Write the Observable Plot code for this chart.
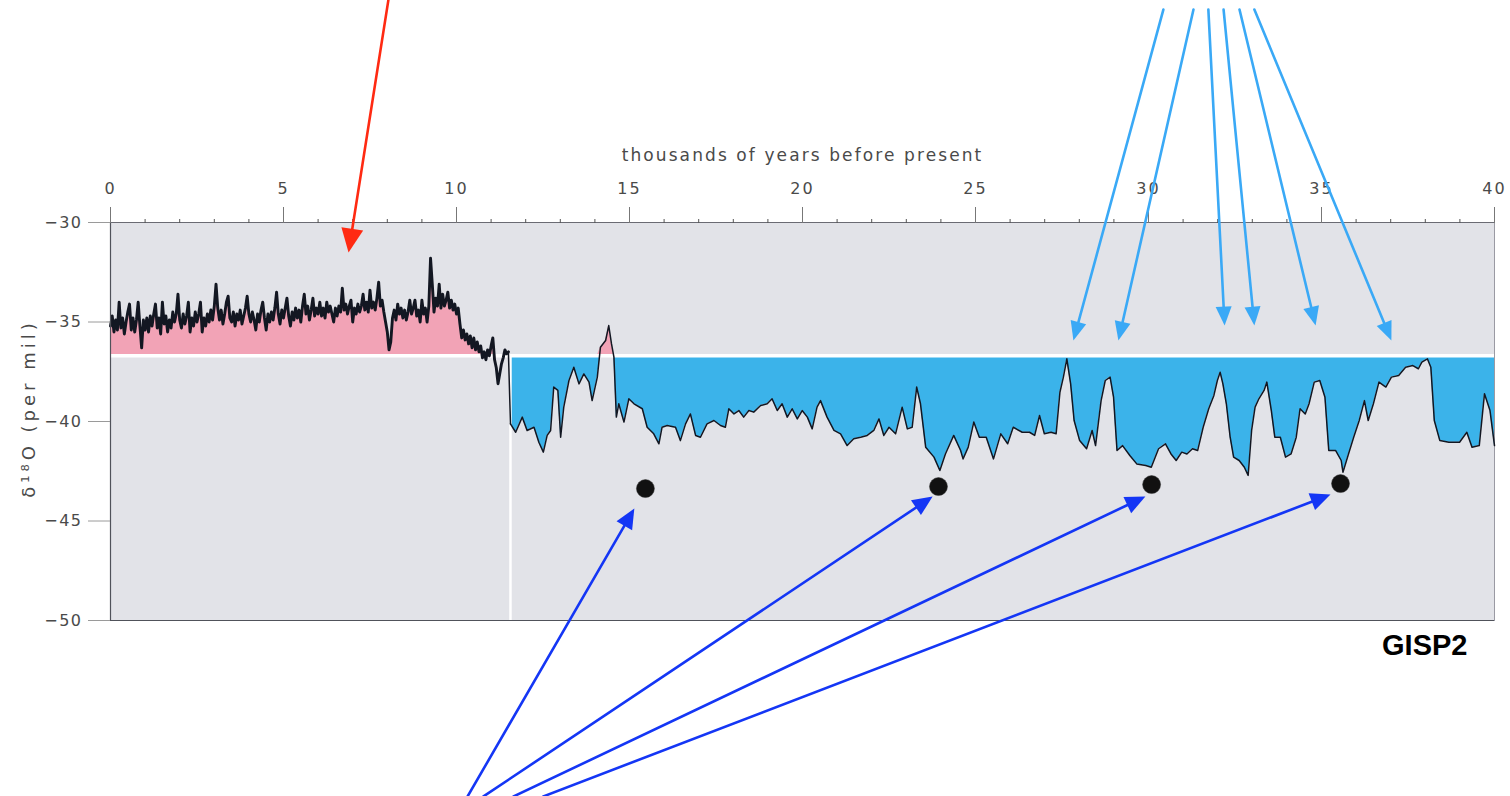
<!DOCTYPE html>
<html>
<head>
<meta charset="utf-8">
<script src="https://cdn.jsdelivr.net/npm/d3@7"></script>
<script src="https://cdn.jsdelivr.net/npm/@observablehq/plot@0.6"></script>
<style>
  html, body { margin: 0; padding: 0; background: #ffffff; }
  #chart svg { display: block; }
  /* axis titles (17px and 18px text marks) use wide tracking */
  #chart g[font-size="17"] text, #chart g[font-size="17px"] text { letter-spacing: 2.1px; }
  #chart g[font-size="18"] text, #chart g[font-size="18px"] text { letter-spacing: 4px; }
  #chart g[aria-label="x-axis tick label"] text { letter-spacing: 2px; }
  #chart g[aria-label="y-axis tick label"] text { letter-spacing: 1.5px; }
</style>
</head>
<body>
<div id="chart"></div>
<script>
// GISP2 ice core: oxygen-isotope record for the last 40,000 years.

// Reference level separating the warm (pink) and cold (blue) shading, per mil
const baseline = -36.7;
// Younger Dryas termination, kyr before present
const holoceneStart = 11.56;

// Holocene section, sampled every 0.05 kyr from 0 ka
const holoceneStep = 0.05;
const holoceneDelta = [
  -35.2, -34.7, -35.5, -34.9, -35.4, -34.0, -35.3, -34.8, -35.6, -35.0, -34.5, -34.1, -35.4, -34.8, -35.5, -34.9, -34.0, -35.2, -36.3, -34.9,
  -35.4, -34.8, -35.5, -34.7, -35.2, -34.6, -34.1, -35.3, -34.8, -35.6, -34.0, -35.1, -34.7, -35.5, -34.9, -35.3, -34.5, -35.0, -34.6, -33.6,
  -34.9, -35.3, -34.6, -35.1, -34.7, -34.0, -35.5, -34.8, -35.2, -34.5, -35.0, -34.6, -34.0, -35.5, -34.8, -35.2, -34.6, -35.0, -34.4, -34.9,
  -34.2, -33.1, -34.3, -34.9, -34.4, -35.1, -34.6, -34.0, -33.7, -34.8, -35.0, -34.5, -35.2, -34.6, -34.9, -34.4, -35.1, -34.7, -34.3, -33.7,
  -34.6, -35.0, -34.5, -34.9, -35.4, -34.6, -35.0, -34.4, -34.0, -34.8, -35.4, -34.6, -35.0, -34.5, -34.9, -34.3, -33.5, -34.6, -35.1, -34.4,
  -34.8, -34.3, -33.8, -34.7, -35.2, -34.5, -34.9, -34.3, -34.8, -34.4, -35.0, -34.2, -33.6, -34.6, -34.2, -34.9, -34.4, -33.8, -34.7, -34.3,
  -34.6, -34.0, -34.7, -34.3, -34.8, -34.0, -34.5, -34.2, -34.6, -35.0, -34.3, -34.7, -34.2, -34.5, -33.3, -34.4, -34.1, -34.6, -34.2, -33.9,
  -35.0, -34.3, -34.6, -34.1, -34.5, -34.2, -33.6, -34.4, -34.0, -34.5, -33.4, -34.3, -34.0, -34.4, -33.8, -33.0, -34.2, -33.9, -34.5, -35.0,
  -35.5, -36.4, -36.0, -34.8, -34.4, -34.9, -34.1, -34.6, -34.3, -34.8, -34.4, -34.9, -34.5, -33.9, -34.6, -34.3, -33.9, -34.7, -34.4, -35.0,
  -33.9, -34.6, -34.3, -35.0, -34.2, -31.8, -33.1, -34.5, -33.8, -34.2, -33.1, -34.3, -33.6, -34.2, -33.9, -33.5, -34.3, -33.9, -34.4, -34.1,
  -34.6, -34.3, -35.1, -35.8, -35.4, -35.9, -35.6, -36.1, -35.7, -36.3, -35.8, -36.4, -36.0, -36.5, -36.2, -36.8, -36.5, -36.9, -36.4, -36.7,
  -36.2, -35.8, -36.9, -37.3, -38.1, -37.6, -37.1, -36.8, -36.4, -36.6, -36.5
];

// Glacial section (kyr BP, per mil)
const glacialAge = [
  11.56, 11.71, 11.90, 12.04, 12.24, 12.38, 12.51, 12.62, 12.72, 12.81, 12.93, 13.01, 13.10, 13.25, 13.39, 13.54, 13.68, 13.83, 13.92, 14.07,
  14.16, 14.31, 14.40, 14.48, 14.55, 14.62, 14.69, 14.84, 14.98, 15.13, 15.37, 15.51, 15.70, 15.85, 15.94, 16.09, 16.33, 16.47, 16.62, 16.76,
  16.91, 17.05, 17.24, 17.44, 17.63, 17.77, 17.87, 18.02, 18.16, 18.30, 18.45, 18.59, 18.79, 18.98, 19.12, 19.27, 19.41, 19.56, 19.70, 19.85,
  19.99, 20.14, 20.28, 20.42, 20.52, 20.71, 20.91, 21.10, 21.29, 21.48, 21.68, 21.87, 22.06, 22.21, 22.35, 22.50, 22.69, 22.88, 23.03, 23.17,
  23.30, 23.41, 23.56, 23.80, 23.97, 24.13, 24.37, 24.57, 24.64, 24.79, 24.95, 25.11, 25.31, 25.52, 25.73, 25.93, 26.09, 26.35, 26.56, 26.71,
  26.85, 26.99, 27.18, 27.33, 27.44, 27.54, 27.64, 27.75, 27.85, 28.01, 28.21, 28.37, 28.47, 28.63, 28.75, 28.89, 28.99, 29.09, 29.25, 29.46,
  29.66, 29.92, 30.08, 30.29, 30.49, 30.65, 30.80, 30.96, 31.11, 31.27, 31.42, 31.58, 31.74, 31.89, 31.99, 32.07, 32.15, 32.25, 32.36, 32.46,
  32.62, 32.77, 32.88, 32.98, 33.08, 33.19, 33.34, 33.42, 33.55, 33.65, 33.81, 33.96, 34.12, 34.27, 34.38, 34.53, 34.64, 34.79, 34.95, 35.10,
  35.21, 35.41, 35.57, 35.62, 35.78, 35.93, 36.09, 36.24, 36.35, 36.50, 36.66, 36.86, 37.02, 37.23, 37.43, 37.64, 37.80, 37.90, 38.06, 38.16,
  38.26, 38.42, 38.68, 38.99, 39.20, 39.35, 39.56, 39.71, 39.87, 40.00
];
const glacialDelta = [
  -40.12, -40.54, -39.78, -40.45, -40.29, -41.04, -41.54, -40.70, -40.45, -38.27, -38.44, -40.79, -39.28, -37.94, -37.27, -38.11, -37.61, -38.02, -38.95, -37.77,
  -36.27, -35.93, -35.18, -36.10, -36.77, -39.78, -39.11, -40.03, -38.86, -39.11, -39.36, -40.29, -40.62, -41.12, -40.29, -40.20, -40.29, -40.96, -40.12, -39.62,
  -40.70, -40.79, -40.12, -39.95, -40.20, -40.29, -39.36, -39.62, -39.45, -39.78, -39.45, -39.53, -39.20, -39.11, -38.86, -39.45, -39.11, -39.78, -39.36, -39.87,
  -39.45, -39.78, -40.37, -39.28, -38.95, -39.78, -40.45, -40.62, -41.21, -40.87, -40.79, -40.70, -40.45, -39.87, -40.70, -40.29, -40.62, -39.28, -40.37, -40.29,
  -38.27, -39.11, -41.29, -41.79, -42.46, -41.63, -40.70, -41.46, -41.88, -41.29, -40.03, -40.79, -40.79, -41.88, -40.62, -41.12, -40.29, -40.54, -40.54, -40.70,
  -39.70, -40.62, -40.54, -40.62, -38.53, -37.77, -36.85, -38.11, -39.95, -40.96, -41.37, -40.45, -41.21, -38.95, -37.94, -37.77, -38.78, -41.46, -41.21, -41.71,
  -42.13, -42.21, -42.30, -41.37, -41.12, -41.63, -41.96, -41.54, -41.63, -41.37, -41.46, -40.29, -39.36, -38.69, -37.94, -37.52, -38.11, -39.11, -40.79, -41.79,
  -41.96, -42.30, -42.71, -40.45, -39.28, -38.86, -38.44, -38.02, -39.45, -40.79, -40.79, -41.79, -41.63, -40.79, -39.36, -39.62, -39.11, -38.02, -37.94, -38.78,
  -41.46, -41.46, -41.96, -42.55, -41.63, -40.79, -39.95, -38.95, -39.95, -39.11, -38.02, -38.27, -37.77, -37.69, -37.27, -37.19, -37.35, -37.02, -36.85, -37.27,
  -39.95, -40.96, -41.04, -41.04, -40.54, -41.29, -41.21, -38.61, -39.45, -41.21
];

// Heinrich events marked with dots
const heinrichAge = [15.46, 23.93, 30.09, 35.55];
const heinrichDelta = [-43.37, -43.27, -43.17, -43.12];

// Annotation arrows (start and tip, in axis units)
const warmArrowStart = [[8.03, -18.84]];
const warmArrowTip = [[6.88, -31.51]];
const interstadialStartAge = [30.43, 31.30, 31.73, 32.17, 32.63, 33.06];
const interstadialStartDelta = [-19.3, -19.3, -19.3, -19.3, -19.3, -19.3];
const interstadialTipAge = [27.83, 29.13, 32.20, 33.06, 34.83, 37.02];
const interstadialTipDelta = [-35.93, -35.93, -35.18, -35.18, -35.18, -35.93];
const heinrichStartAge = [10.32, 10.78, 11.65, 12.51];
const heinrichStartDelta = [-58.84, -58.84, -58.84, -58.84];
const heinrichTipAge = [15.14, 23.76, 29.91, 35.26];
const heinrichTipDelta = [-44.37, -43.77, -43.77, -43.67];

// Axis ticks
const majorTicks = [0, 5, 10, 15, 20, 25, 30, 35, 40];
const minorTicks = d3.range(0, 41, 1);
const yTicks = [-30, -35, -40, -45, -50];

// Layout
const W = 1510, H = 796;
const M = {top: 222, right: 16, bottom: 176, left: 110};
const xDomain = [0, 40], yDomain = [-50, -30];
const kx = (W - M.left - M.right) / (xDomain[1] - xDomain[0]);
const ky = (H - M.top - M.bottom) / (yDomain[1] - yDomain[0]);

// Build records
const holocene = holoceneDelta.map((d, i) => ({age: +(i * holoceneStep).toFixed(2), delta: d}));
const glacial = glacialAge.map((a, i) => ({age: a, delta: glacialDelta[i]}));
const record = holocene.concat(glacial);
const heinrich = heinrichAge.map((a, i) => ({age: a, delta: heinrichDelta[i]}));

function arrows(sx, sy, tx, ty) {
  return sx.map((_, i) => {
    const x1 = sx[i], y1 = sy[i], x2 = tx[i], y2 = ty[i];
    const angle = Math.atan2(-(y2 - y1) * ky, (x2 - x1) * kx) * 180 / Math.PI;
    return {x1, y1, x2, y2, angle};
  });
}
const warmArrows = arrows([warmArrowStart[0][0]], [warmArrowStart[0][1]], [warmArrowTip[0][0]], [warmArrowTip[0][1]]);
const interArrows = arrows(interstadialStartAge, interstadialStartDelta, interstadialTipAge, interstadialTipDelta);
const heinArrows = arrows(heinrichStartAge, heinrichStartDelta, heinrichTipAge, heinrichTipDelta);

// Filled arrowhead, tip at the origin pointing along +x
function head(len, half) {
  return {draw(ctx) { ctx.moveTo(0, 0); ctx.lineTo(-len, -half); ctx.lineTo(-len, half); ctx.closePath(); }};
}

function arrowMarks(data, color, width, len, half) {
  return [
    Plot.arrow(data, {x1: "x1", y1: "y1", x2: "x2", y2: "y2", stroke: color, strokeWidth: width, headLength: 0, insetEnd: len - 2}),
    Plot.dot(data, {x: "x2", y: "y2", rotate: "angle", symbol: head(len, half), fill: color, stroke: "none", r: 4})
  ];
}

const pink = "#f2a3b6";
const blue = "#3bb3ea";
const ink = "#131722";
const textGray = "#4a4a4a";

const chart = Plot.plot({
  width: W,
  height: H,
  marginTop: M.top,
  marginRight: M.right,
  marginBottom: M.bottom,
  marginLeft: M.left,
  x: {domain: xDomain},
  y: {domain: yDomain},
  style: {background: "transparent", fontFamily: "'DejaVu Sans', sans-serif", fontSize: "16px", color: "#4d4d4d", overflow: "visible"},
  marks: [
    Plot.frame({fill: "#e2e3e8", stroke: "#9a9aa3"}),
    // warm shading above the reference level
    Plot.areaY(record, {x: "age", y1: baseline, y2: d => Math.max(d.delta, baseline), fill: pink, curve: "linear"}),
    // cold shading below the reference level, glacial section only
    Plot.areaY(glacial, {x: "age", y1: baseline, y2: d => Math.min(d.delta, baseline), fill: blue, curve: "linear"}),
    Plot.ruleY([baseline], {stroke: "#ffffff", strokeWidth: 3.5}),
    Plot.ruleX([holoceneStart], {y1: yDomain[0], y2: baseline, stroke: "#ffffff", strokeWidth: 2.5}),
    Plot.line(holocene, {x: "age", y: "delta", stroke: ink, strokeWidth: 2.9}),
    Plot.line(glacial, {x: "age", y: "delta", stroke: ink, strokeWidth: 1.5}),
    Plot.lineY([holocene[holocene.length - 1], glacial[0]], {x: "age", y: "delta", stroke: ink, strokeWidth: 1.5}),
    // frame edges
    Plot.ruleX([xDomain[0]], {stroke: "#50525a", strokeWidth: 1.2}),
    Plot.ruleY([yDomain[0]], {stroke: "#50525a", strokeWidth: 1.2}),
    Plot.ruleY([yDomain[1]], {stroke: "#6a6b73", strokeWidth: 1}),
    // axes
    Plot.axisX({anchor: "top", ticks: minorTicks, tickSize: 4, tickFormat: () => "", label: null, stroke: "#555"}),
    Plot.axisX({anchor: "top", ticks: majorTicks, tickSize: 16, tickPadding: 13, label: null, stroke: "#777", fill: textGray}),
    Plot.axisY({anchor: "left", ticks: yTicks, tickSize: 22, tickPadding: 6, label: null, stroke: "#9a9a9a", fill: textGray}),
    Plot.text(["thousands of years before present"], {frameAnchor: "top", dy: -67, lineAnchor: "middle", fill: textGray, fontSize: 17}),
    Plot.text(["δ¹⁸O (per mil)"], {frameAnchor: "left", textAnchor: "middle", lineAnchor: "middle", rotate: -90, dx: -81, dy: -13, fill: textGray, fontSize: 18}),
    Plot.text(["GISP2"], {frameAnchor: "bottom-right", dx: -27, dy: 25, textAnchor: "end", lineAnchor: "middle", fontFamily: "'Liberation Sans', Arial, sans-serif", fontWeight: "bold", fontSize: 29, fill: "#000"}),
    // Heinrich events
    Plot.dot(heinrich, {x: "age", y: "delta", r: 9, fill: "#111111", stroke: "#333", strokeWidth: 0.5}),
    // annotation arrows
    ...arrowMarks(warmArrows, "#ff2a12", 2.6, 24, 11),
    ...arrowMarks(interArrows, "#3aa9f6", 2.6, 19, 8),
    ...arrowMarks(heinArrows, "#1436f5", 2.6, 20, 9)
  ]
});

document.getElementById("chart").appendChild(chart);
</script>
</body>
</html>
